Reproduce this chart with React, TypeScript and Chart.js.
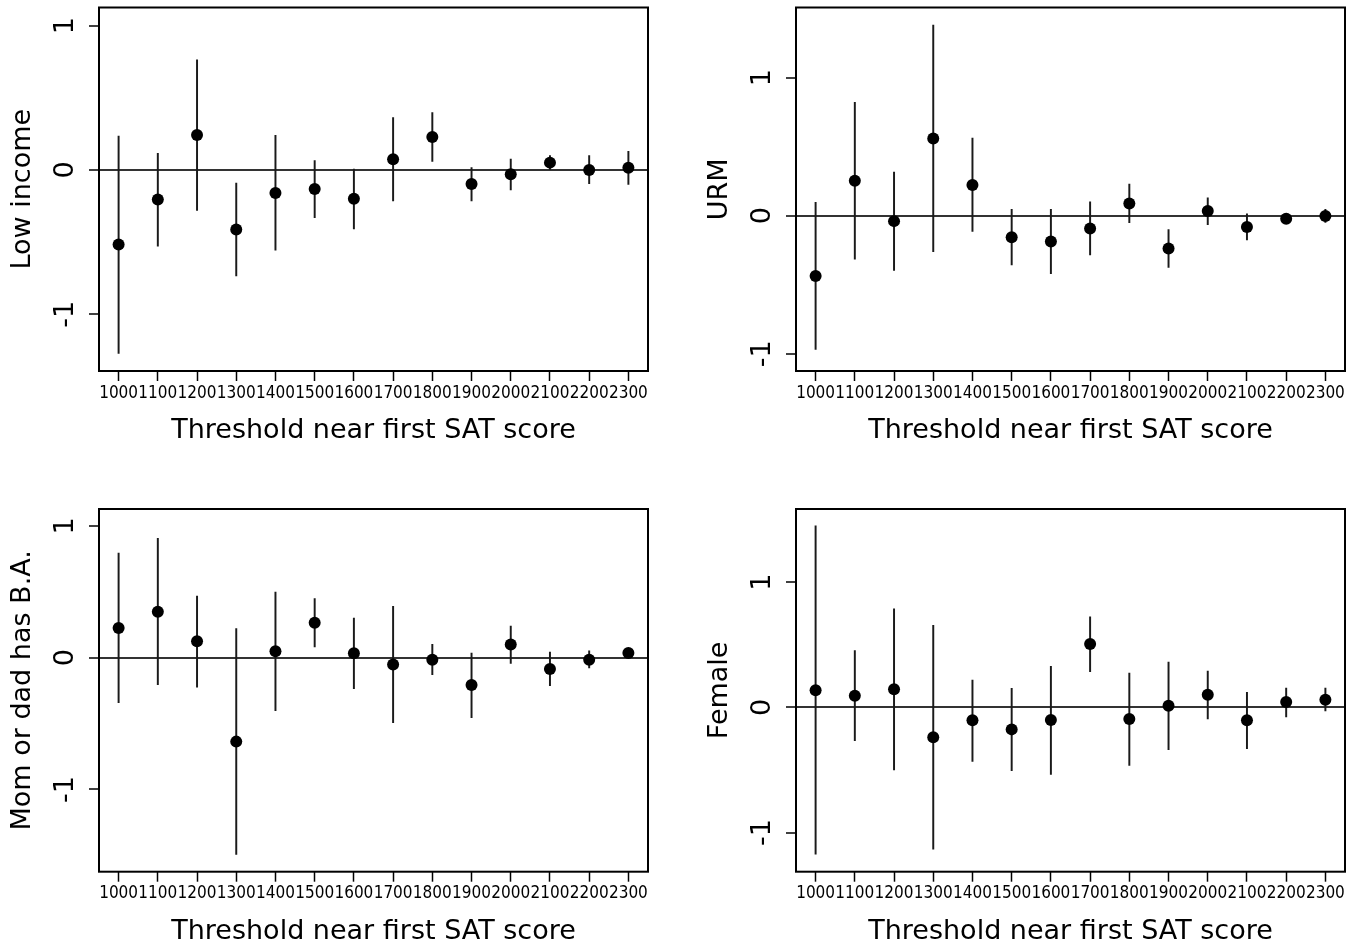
import { useEffect, useRef } from 'react';
import { Chart, registerables } from 'chart.js';

Chart.register(...registerables);

// ---------- data ----------
const thresholds = ['1000', '1100', '1200', '1300', '1400', '1500', '1600', '1700', '1800', '1900', '2000', '2100', '2200', '2300'];
const yTickValues = [-1, 0, 1];
const xAxisTitle = 'Threshold near first SAT score';

const lowIncomeEst = [-0.517, -0.205, 0.242, -0.413, -0.159, -0.131, -0.2, 0.074, 0.228, -0.097, -0.03, 0.051, 0.0, 0.016];
const lowIncomeLow = [-1.271, -0.528, -0.281, -0.734, -0.556, -0.33, -0.408, -0.215, 0.06, -0.215, -0.138, 0.002, -0.095, -0.1];
const lowIncomeHigh = [0.235, 0.115, 0.764, -0.09, 0.24, 0.065, 0.007, 0.364, 0.397, 0.016, 0.076, 0.099, 0.099, 0.129];

const urmEst = [-0.437, 0.254, -0.039, 0.56, 0.222, -0.155, -0.186, -0.092, 0.089, -0.237, 0.034, -0.082, -0.022, -0.002];
const urmLow = [-0.969, -0.314, -0.396, -0.261, -0.114, -0.357, -0.42, -0.283, -0.051, -0.374, -0.065, -0.176, -0.046, -0.048];
const urmHigh = [0.097, 0.821, 0.316, 1.382, 0.563, 0.046, 0.046, 0.101, 0.229, -0.101, 0.13, 0.014, 0.005, 0.046];

const parentBAEst = [0.225, 0.349, 0.124, -0.637, 0.048, 0.265, 0.033, -0.051, -0.015, -0.207, 0.099, -0.086, -0.015, 0.035];
const parentBALow = [-0.341, -0.205, -0.223, -1.492, -0.402, 0.081, -0.235, -0.493, -0.129, -0.455, -0.043, -0.212, -0.078, 0.008];
const parentBAHigh = [0.794, 0.905, 0.468, 0.22, 0.498, 0.448, 0.301, 0.389, 0.101, 0.035, 0.24, 0.043, 0.051, 0.063];

const femaleEst = [0.136, 0.093, 0.144, -0.239, -0.104, -0.176, -0.101, 0.505, -0.093, 0.013, 0.101, -0.104, 0.043, 0.061];
const femaleLow = [-1.173, -0.266, -0.5, -1.133, -0.431, -0.505, -0.535, 0.285, -0.463, -0.338, -0.093, -0.33, -0.077, -0.029];
const femaleHigh = [1.449, 0.452, 0.787, 0.654, 0.218, 0.152, 0.327, 0.723, 0.274, 0.362, 0.29, 0.12, 0.154, 0.154];

// ---------- layout (plot frame in page pixels) ----------
const panels = [
  { label: 'Low income', est: lowIncomeEst, low: lowIncomeLow, high: lowIncomeHigh, ymin: -1.393, ymax: 1.126, left: 99, top: 7.5, right: 648, bottom: 371 },
  { label: 'URM', est: urmEst, low: urmLow, high: urmHigh, ymin: -1.125, ymax: 1.509, left: 796, top: 7.5, right: 1345, bottom: 371 },
  { label: 'Mom or dad has B.A.', est: parentBAEst, low: parentBALow, high: parentBAHigh, ymin: -1.624, ymax: 1.128, left: 99, top: 509, right: 648, bottom: 871.7 },
  { label: 'Female', est: femaleEst, low: femaleLow, high: femaleHigh, ymin: -1.312, ymax: 1.583, left: 796, top: 509, right: 1345, bottom: 871.7 },
];

const Y_AXIS_W = 96;
const X_AXIS_H = 80;
const RIGHT_PAD = 12;

const framePlugin = {
  id: 'frameBox',
  afterDraw(chart: any) {
    const { ctx, chartArea: a } = chart;
    ctx.save();
    ctx.strokeStyle = '#000';
    ctx.lineWidth = 2;
    ctx.strokeRect(a.left, a.top, a.right - a.left, a.bottom - a.top);
    ctx.restore();
  },
};

function Panel({ p }: { p: any }) {
  const ref = useRef<HTMLCanvasElement>(null);
  const canvasLeft = p.left - Y_AXIS_W;
  const canvasTop = Math.max(0, Math.floor(p.top) - 8);
  const width = p.right - canvasLeft + RIGHT_PAD;
  const height = Math.ceil(p.bottom) + 85 - canvasTop;
  const padTop = p.top - canvasTop;
  const padBottom = height - (p.bottom - canvasTop) - X_AXIS_H;

  useEffect(() => {
    if (!ref.current) return;
    const chart = new Chart(ref.current, {
      type: 'bar',
      data: {
        labels: thresholds,
        datasets: [
          {
            type: 'line',
            data: p.est,
            showLine: false,
            pointRadius: 6,
            pointHoverRadius: 6,
            pointBackgroundColor: '#000',
            pointBorderWidth: 0,
            borderColor: '#000',
            order: 0,
          } as any,
          {
            type: 'bar',
            data: p.low.map((lo: number, i: number) => [lo, p.high[i]]),
            backgroundColor: '#1a1a1a',
            borderWidth: 0,
            barThickness: 1.3,
            order: 1,
          } as any,
        ],
      },
      options: {
        responsive: false,
        animation: false,
        events: [],
        layout: { padding: { top: padTop, left: 0, right: RIGHT_PAD, bottom: padBottom } },
        plugins: { legend: { display: false }, tooltip: { enabled: false } },
        scales: {
          x: {
            type: 'category',
            offset: true,
            afterFit: (s: any) => { s.height = X_AXIS_H; s.paddingLeft = 0; s.paddingRight = 0; },
            grid: { display: true, drawOnChartArea: false, offset: false, color: '#000', tickColor: '#000', tickWidth: 1.5, tickLength: 10 },
            border: { display: false },
            ticks: {
              autoSkip: false, maxRotation: 0, minRotation: 0, padding: 2, color: '#000',
              font: { family: '"DejaVu Sans Condensed", "DejaVu Sans", sans-serif', size: 17 },
            },
            title: {
              display: true, text: xAxisTitle, color: '#000',
              font: { family: '"DejaVu Sans", sans-serif', size: 27 },
              padding: { top: 0, bottom: 4 },
            },
          },
          y: {
            type: 'linear',
            min: p.ymin,
            max: p.ymax,
            afterBuildTicks: (s: any) => { s.ticks = yTickValues.map((v) => ({ value: v })); },
            afterFit: (s: any) => { s.width = Y_AXIS_W; s.paddingTop = 0; s.paddingBottom = 0; },
            grid: {
              drawOnChartArea: true,
              color: (c: any) => (c.tick && c.tick.value === 0 ? '#333' : 'rgba(0,0,0,0)'),
              lineWidth: 2,
              tickColor: '#000',
              tickWidth: 1.5,
              tickLength: 10,
            },
            border: { display: false },
            ticks: {
              minRotation: 90, maxRotation: 90, crossAlign: 'center', padding: 10, color: '#000',
              font: { family: '"DejaVu Sans", sans-serif', size: 27 },
              callback: (v: any) => String(v),
            },
            title: {
              display: true, text: p.label, color: '#000',
              font: { family: '"DejaVu Sans", sans-serif', size: 27 },
              padding: { top: 3.8, bottom: 0 },
            },
          },
        },
      } as any,
      plugins: [framePlugin],
    });
    return () => chart.destroy();
  }, []);

  return (
    <canvas
      ref={ref}
      width={width}
      height={height}
      style={{ position: 'absolute', left: canvasLeft, top: canvasTop, width, height }}
    />
  );
}

export default function App() {
  return (
    <div style={{ position: 'absolute', left: 0, top: 0, width: 1361, height: 947, overflow: 'hidden', background: '#fff' }}>
      {panels.map((p, i) => (
        <Panel key={i} p={p} />
      ))}
    </div>
  );
}
